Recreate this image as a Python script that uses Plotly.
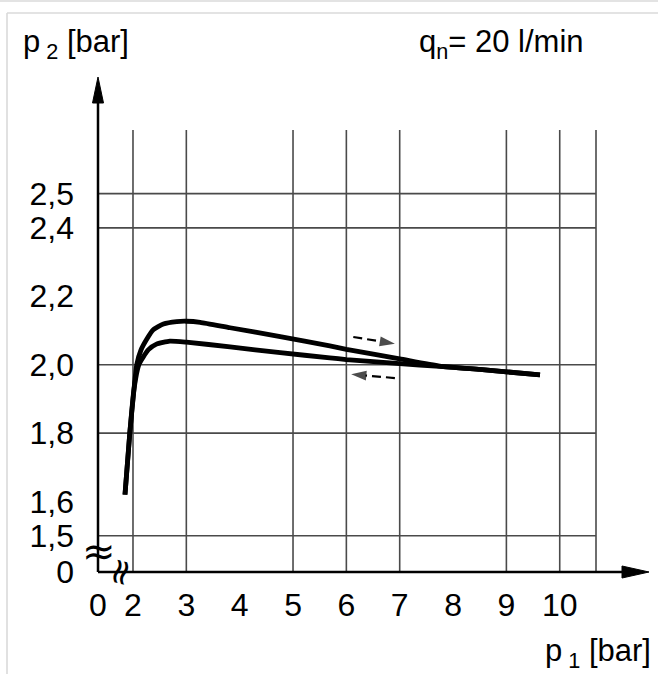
import plotly.graph_objects as go

# ---- data ----
up_x = [1.85, 1.94, 2.02, 2.07, 2.15, 2.26, 2.38, 2.57, 2.82, 3.0, 3.26, 3.82, 4.76, 5.69, 6.0, 7.0, 7.75, 8.5, 9.0, 9.63]
up_y = [1.62, 1.80, 1.93, 2.00, 2.043, 2.075, 2.102, 2.119, 2.126, 2.127, 2.124, 2.108, 2.082, 2.055, 2.045, 2.017, 1.996, 1.986, 1.979, 1.970]

down_x = [1.85, 1.94, 2.02, 2.11, 2.19, 2.29, 2.44, 2.69, 3.0, 3.82, 4.76, 5.69, 6.0, 7.0, 7.75, 8.5, 9.0, 9.63]
down_y = [1.62, 1.80, 1.93, 2.00, 2.022, 2.044, 2.060, 2.069, 2.066, 2.052, 2.035, 2.020, 2.015, 2.003, 1.995, 1.986, 1.979, 1.970]

arrow_up_x = [6.13, 6.91]
arrow_up_y = [2.081, 2.061]
arrow_down_x = [6.91, 6.09]
arrow_down_y = [1.961, 1.972]

x_grid = [2, 3, 5, 6, 7, 9, 10]
y_grid = [1.5, 1.8, 2.0, 2.4, 2.5]

x_tickvals = [1.344, 2, 3, 4, 5, 6, 7, 8, 9, 10]
x_ticktext = ["0", "2", "3", "4", "5", "6", "7", "8", "9", "10"]
y_tickvals = [1.394, 1.5, 1.6, 1.8, 2.0, 2.2, 2.4, 2.5]
y_ticktext = ["0", "1,5", "1,6", "1,8", "2,0", "2,2", "2,4", "2,5"]

x_range = [1.344, 10.68]
y_range = [1.394, 2.686]

FONT = "Liberation Sans, Arial, sans-serif"
SYM_FONT = "DejaVu Sans, sans-serif"

# ---- layout geometry (pixels) ----
W, H = 658, 674
L, R, T, B = 98, 596, 130, 572


def X(px):
    return (px - L) / (R - L)


def Y(py):
    return (B - py) / (B - T)


fig = go.Figure()

curve_line = dict(color="black", width=4.8, shape="spline", smoothing=0.5)
fig.add_trace(go.Scatter(x=up_x, y=up_y, mode="lines", line=curve_line, showlegend=False, hoverinfo="skip"))
fig.add_trace(go.Scatter(x=down_x, y=down_y, mode="lines", line=curve_line, showlegend=False, hoverinfo="skip"))

for ax_, ay_ in [(arrow_up_x, arrow_up_y), (arrow_down_x, arrow_down_y)]:
    fig.add_trace(go.Scatter(x=ax_, y=ay_, mode="lines+markers",
                             line=dict(color="black", width=2.2, dash="9px,5px"),
                             marker=dict(symbol=["circle", "arrow"], size=[0, 16], color="black",
                                         angleref="previous", line=dict(width=0)),
                             showlegend=False, hoverinfo="skip"))

shapes = []
grid_style = dict(color="#4a4a4a", width=1.6)
for gx in x_grid:
    shapes.append(dict(type="line", xref="x", yref="paper", x0=gx, x1=gx, y0=0, y1=1, line=grid_style, layer="below"))
shapes.append(dict(type="line", xref="paper", yref="paper", x0=1, x1=1, y0=0, y1=1, line=grid_style, layer="below"))
for gy in y_grid:
    shapes.append(dict(type="line", xref="paper", yref="y", x0=0, x1=1, y0=gy, y1=gy, line=grid_style, layer="below"))

# axes with arrowheads
shapes.append(dict(type="line", xref="paper", yref="paper", x0=X(98), x1=X(626), y0=Y(572), y1=Y(572),
                   line=dict(color="black", width=2.5)))
shapes.append(dict(type="line", xref="paper", yref="paper", x0=X(98), x1=X(98), y0=Y(572), y1=Y(98),
                   line=dict(color="black", width=2.5)))
shapes.append(dict(type="path", xref="paper", yref="paper",
                   path=f"M{X(622)},{Y(566)} L{X(649)},{Y(572)} L{X(622)},{Y(578)} Z",
                   fillcolor="black", line=dict(color="black", width=1)))
shapes.append(dict(type="path", xref="paper", yref="paper",
                   path=f"M{X(92.5)},{Y(103)} L{X(98)},{Y(77)} L{X(103.5)},{Y(103)} Z",
                   fillcolor="black", line=dict(color="black", width=1)))

# screenshot frame
frame = dict(color="#dadada", width=1.6)
shapes.append(dict(type="line", xref="paper", yref="paper", x0=X(0), x1=X(658), y0=Y(1), y1=Y(1), line=frame))
shapes.append(dict(type="line", xref="paper", yref="paper", x0=X(7), x1=X(658), y0=Y(13), y1=Y(13), line=frame))
shapes.append(dict(type="line", xref="paper", yref="paper", x0=X(7), x1=X(7), y0=Y(13), y1=Y(674), line=frame))

annotations = [
    dict(text="p<sub> 2</sub> [bar]", xref="paper", yref="paper", x=X(21), y=Y(22), xanchor="left", yanchor="top",
         showarrow=False, font=dict(family=FONT, size=31, color="black")),
    dict(text="q<sub>n</sub>= 20 l/min", xref="paper", yref="paper", x=X(417), y=Y(22), xanchor="left", yanchor="top",
         showarrow=False, font=dict(family=FONT, size=31, color="black")),
    dict(text="p<sub> 1</sub> [bar]", xref="paper", yref="paper", x=X(543), y=Y(631), xanchor="left", yanchor="top",
         showarrow=False, font=dict(family=FONT, size=31, color="black")),
    dict(text="≈", xref="paper", yref="paper", x=X(99), y=Y(551), xanchor="center", yanchor="middle",
         showarrow=False, font=dict(family=SYM_FONT, size=40, color="black")),
    dict(text="≈", xref="paper", yref="paper", x=X(119), y=Y(572), xanchor="center", yanchor="middle", textangle=-75,
         showarrow=False, font=dict(family=SYM_FONT, size=36, color="black")),
]

fig.update_layout(
    width=W, height=H,
    margin=dict(l=L, r=W - R, t=T, b=H - B, pad=0),
    paper_bgcolor="white", plot_bgcolor="white",
    shapes=shapes, annotations=annotations,
    xaxis=dict(range=x_range, showgrid=False, zeroline=False, showline=False, ticks="",
               tickmode="array", tickvals=x_tickvals, ticktext=x_ticktext, ticklabelstandoff=11,
               tickfont=dict(family=FONT, size=32, color="black")),
    yaxis=dict(range=y_range, showgrid=False, zeroline=False, showline=False, ticks="",
               tickmode="array", tickvals=y_tickvals, ticktext=y_ticktext, ticklabelstandoff=23,
               tickfont=dict(family=FONT, size=32, color="black")),
)

fig.write_html("out.html", post_script="document.body.style.margin='0';",
               config={"displayModeBar": False})
